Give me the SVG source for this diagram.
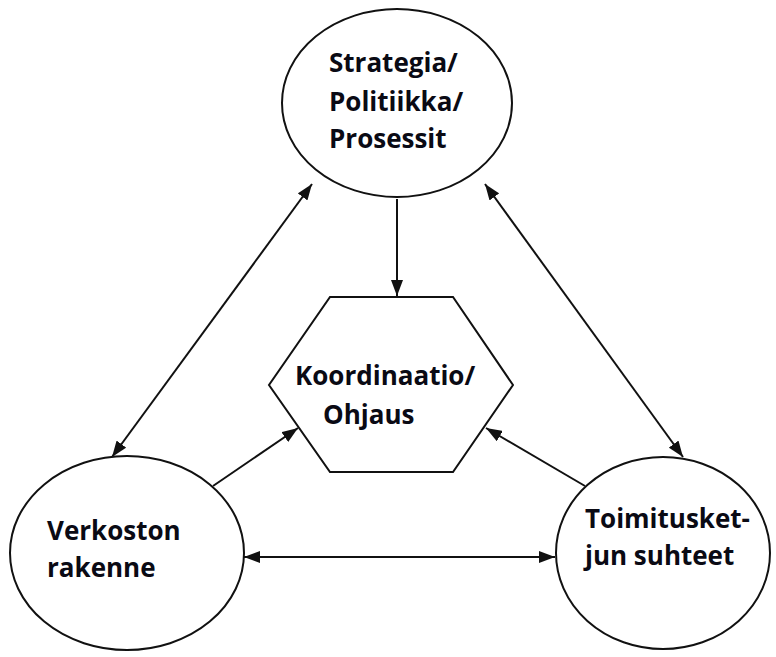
<svg xmlns="http://www.w3.org/2000/svg" width="776" height="657" viewBox="0 0 776 657">
  <style>
    .shape { fill: #fff; stroke: #111; stroke-width: 2; }
    .link { fill: none; stroke: #111; stroke-width: 2; }
    .label { font-family: "Open Sans", "Liberation Sans", sans-serif; font-weight: bold; font-size: 26px; fill: #0a0a14; }
  </style>
  <defs>
    <marker id="arrow" viewBox="0 0 16 12" refX="16" refY="6" markerWidth="16" markerHeight="12" markerUnits="userSpaceOnUse" orient="auto-start-reverse">
      <path d="M0,0 L16,6 L0,12 Z" fill="#111"/>
    </marker>
  </defs>
  <rect width="776" height="657" fill="#fff"/>

  <g id="connectors">
    <line class="link" x1="397" y1="199" x2="397" y2="296" marker-end="url(#arrow)"/>
    <line class="link" x1="312" y1="184" x2="112" y2="457" marker-start="url(#arrow)" marker-end="url(#arrow)"/>
    <line class="link" x1="485" y1="184" x2="683" y2="457" marker-start="url(#arrow)" marker-end="url(#arrow)"/>
    <line class="link" x1="213" y1="486" x2="298" y2="428" marker-end="url(#arrow)"/>
    <line class="link" x1="585" y1="486" x2="486" y2="428" marker-end="url(#arrow)"/>
    <line class="link" x1="244" y1="557" x2="555" y2="557" marker-start="url(#arrow)" marker-end="url(#arrow)"/>
  </g>

  <g id="strategia">
    <ellipse class="shape" cx="397" cy="103" rx="115" ry="94"/>
    <text class="label" x="329" y="72">Strategia/</text>
    <text class="label" x="329" y="111">Politiikka/</text>
    <text class="label" x="329" y="148">Prosessit</text>
  </g>

  <g id="koordinaatio">
    <polygon class="shape" points="330,297 453,297 513,385 453,472 330,472 269,385"/>
    <text class="label" x="295" y="385">Koordinaatio/</text>
    <text class="label" x="323" y="424">Ohjaus</text>
  </g>

  <g id="verkoston">
    <ellipse class="shape" cx="127" cy="553" rx="117" ry="97"/>
    <text class="label" x="47" y="540">Verkoston</text>
    <text class="label" x="47" y="577">rakenne</text>
  </g>

  <g id="toimitusketju">
    <ellipse class="shape" cx="663" cy="553" rx="107" ry="96"/>
    <text class="label" x="585" y="528">Toimitusket-</text>
    <text class="label" x="585" y="565">jun suhteet</text>
  </g>
</svg>
